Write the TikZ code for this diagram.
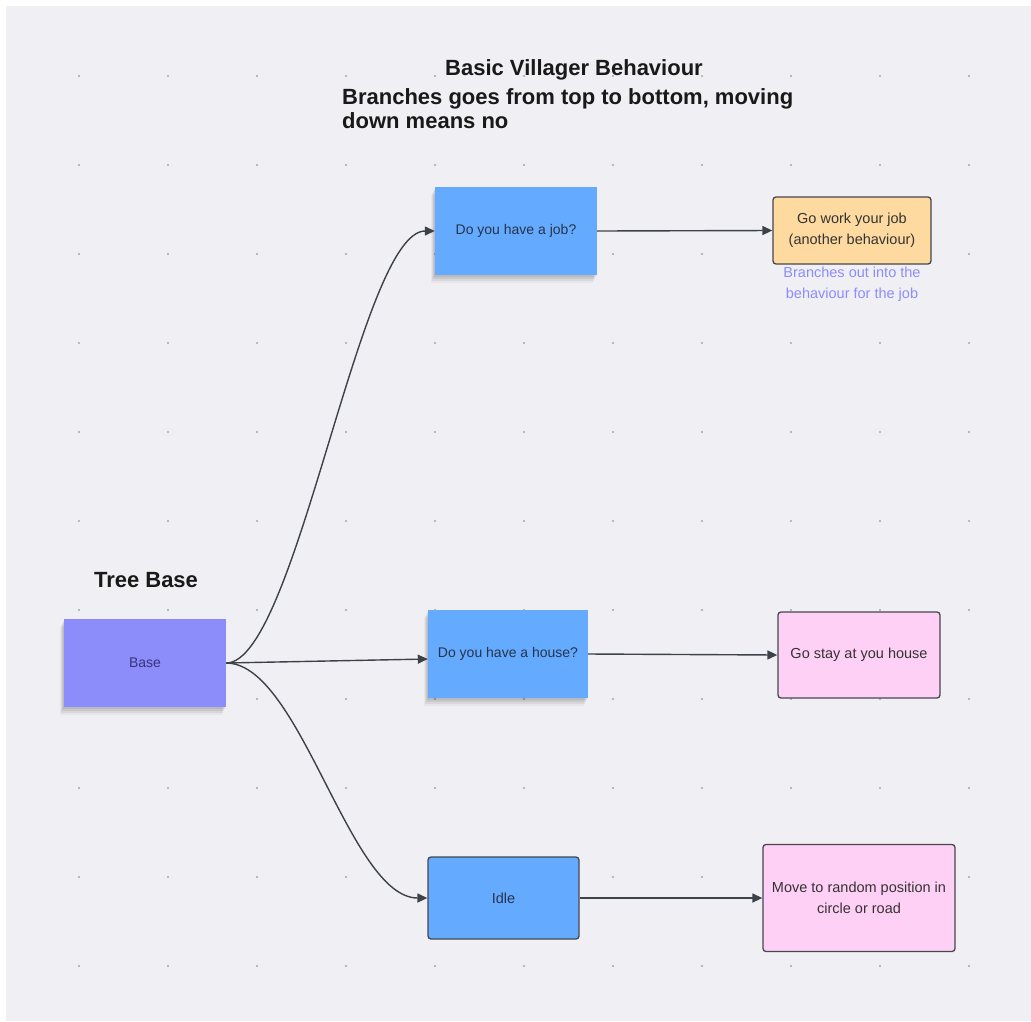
\documentclass[tikz,border=0pt]{standalone}
\usepackage{fontspec}
\setmainfont{Liberation Sans}
\usetikzlibrary{arrows.meta,shadows}
\definecolor{bgc}{HTML}{F0F0F4}
\definecolor{dotc}{HTML}{A6A6AE}
\definecolor{stickyblue}{HTML}{64AAFF}
\definecolor{basepurple}{HTML}{8C8CFA}
\definecolor{jobor}{HTML}{FFDAA0}
\definecolor{pinkc}{HTML}{FFD0F5}
\definecolor{edgec}{HTML}{45484E}
\definecolor{linec}{HTML}{3D4148}
\definecolor{txtc}{HTML}{27344A}
\definecolor{basetxt}{HTML}{35347A}
\definecolor{darktxt}{HTML}{333333}
\definecolor{annc}{HTML}{8C8CFF}
\begin{document}
\begin{tikzpicture}[x=1pt,y=-1pt,
  titletext/.style={font=\fontsize{22}{25}\selectfont\bfseries, text=black!90, inner sep=0pt},
  sticky/.style={rectangle, draw=none, inner sep=2pt, align=center, text=txtc,
     font=\fontsize{14}{20}\selectfont,
     drop shadow={shadow xshift=-1pt, shadow yshift=-2pt, opacity=0.07, fill=black},
     drop shadow={shadow xshift=-2pt, shadow yshift=-4pt, opacity=0.07, fill=black},
     drop shadow={shadow xshift=-3pt, shadow yshift=-6pt, opacity=0.06, fill=black},
     drop shadow={shadow xshift=-4pt, shadow yshift=-8pt, opacity=0.04, fill=black}},
  roundbox/.style={rectangle, rounded corners=3pt, draw=edgec, line width=1.3pt,
     inner sep=2pt, align=center, text=darktxt, font=\fontsize{14.5}{21}\selectfont},
  annot/.style={inner sep=0pt, align=center, text=annc, font=\fontsize{14.5}{21}\selectfont},
  conn/.style={draw=linec, line width=1.4pt, -{Triangle[length=10pt,width=9pt]}}
]
\path[use as bounding box] (0,0) rectangle (1031,1021);
\fill[white] (0,0) rectangle (1031,1021);
\fill[bgc] (6,6) rectangle (1031,1021);
\foreach \i in {0,...,10}{
  \foreach \j in {0,...,10}{
    \fill[dotc] ({79+89*\i},{76+89*\j}) circle (1.1);
  }
}
% titles
\node[titletext, anchor=base] (t1) at (574,75) {Basic Villager Behaviour};
\node[titletext, anchor=base west] (t2) at (342,104) {Branches goes from top to bottom, moving};
\node[titletext, anchor=base west] (t3) at (342,128) {down means no};
\node[titletext, anchor=base] (treebase) at (146,587) {Tree Base};
% boxes
\node[sticky, fill=basepurple, text=basetxt, minimum width=162pt, minimum height=88pt] (base) at (145,663) {Base};
\node[sticky, fill=stickyblue, minimum width=162pt, minimum height=88pt] (job) at (516,231) {Do you have a job?};
\node[sticky, fill=stickyblue, minimum width=160pt, minimum height=88pt] (house) at (508,654) {Do you have a house?};
\node[roundbox, fill=stickyblue, text=txtc, minimum width=151pt, minimum height=82pt] (idle) at (503.5,898) {Idle};
\node[roundbox, fill=jobor, minimum width=158pt, minimum height=67pt] (gowork) at (852,230.5) {Go work your job\\(another behaviour)};
\node[annot] (note) at (852,284) {Branches out into the\\behaviour for the job};
\node[roundbox, fill=pinkc, minimum width=162pt, minimum height=86pt] (gostay) at (859,655) {Go stay at you house};
\node[roundbox, fill=pinkc, minimum width=192pt, minimum height=107pt] (move) at (859,898) {Move to random position in\\circle or road};
% connectors
\draw[conn] (base.east) .. controls +(70,0) and +(-75,0) .. (job.west);
\draw[conn] (base.east) -- ([yshift=-5pt]house.west);
\draw[conn] (base.east) .. controls +(74,0) and +(-78,0) .. (idle.west);
\draw[conn] (job.east) -- (gowork.west);
\draw[conn] (house.east) -- (gostay.west);
\draw[conn] (idle.east) -- (move.west);
\end{tikzpicture}
\end{document}
